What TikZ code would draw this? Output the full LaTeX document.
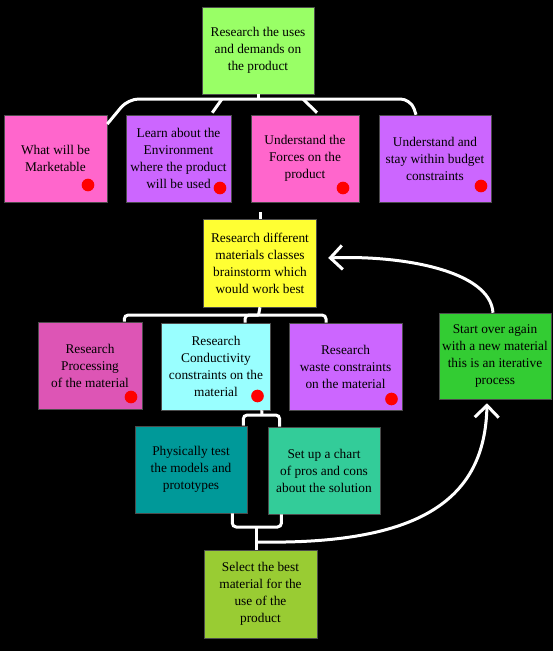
\documentclass[tikz,border=0pt]{standalone}
\usepackage{fontspec}
\setmainfont{Liberation Serif}
\usetikzlibrary{arrows.meta}

\definecolor{lime}{HTML}{99FF66}
\definecolor{rose}{HTML}{FF66CC}
\definecolor{lilac}{HTML}{CC66FF}
\definecolor{lemon}{HTML}{FFFF33}
\definecolor{plum}{HTML}{DD55B5}
\definecolor{ice}{HTML}{99FFFF}
\definecolor{grass}{HTML}{33CC33}
\definecolor{teal}{HTML}{009999}
\definecolor{sea}{HTML}{33CC99}
\definecolor{olive}{HTML}{99CC33}

\begin{document}
\begin{tikzpicture}[
    x=0.75pt, y=-0.75pt,
    every node/.style={draw=black!70, align=center, inner sep=0pt, text=black, font=\fontsize{10}{12.75}\selectfont},
    card/.style={minimum width=84pt, minimum height=65.25pt},
    dot/.style={circle, draw=none, fill=red, minimum size=9.5pt},
    wire/.style={draw=white, line width=2.25pt, rounded corners=3pt},
    back/.style={draw=white, line width=2.25pt, -{Straight Barb[length=9pt, width=18pt, line width=2.25pt]}}
]

\fill[black] (0,0) rectangle (553,651);

% top level
\node[card, fill=lime] (uses) at (258,50.5) {Research the uses\\and demands on\\the product};

\node[card, fill=rose, minimum width=77.25pt] (market) at (55.5,158.5) {What will be\\Marketable};
\node[card, fill=lilac, minimum width=78.75pt] (envir) at (178.5,158.5) {Learn about the\\Environment\\where the product\\will be used};
\node[card, fill=rose, minimum width=81pt] (forces) at (305,158.5) {Understand the\\Forces on the\\product};
\node[card, fill=lilac] (budget) at (435,158.5) {Understand and\\stay within budget\\constraints};

\node[dot] (dotA) at (88,185) {};
\node[dot] (dotB) at (220,188) {};
\node[dot] (dotC) at (343,188) {};
\node[dot] (dotD) at (481,186) {};

% materials
\node[card, fill=lemon, minimum width=84.75pt, minimum height=66pt] (mats) at (260,263) {Research different\\materials classes\\brainstorm which\\would work best};

\node[card, fill=plum, minimum width=78pt] (proc) at (90,365.5) {Research\\Processing\\of the material};
\node[card, fill=ice, minimum width=81.75pt] (cond) at (216,366.5) {Research\\Conductivity\\constraints on the\\material};
\node[card, fill=lilac, minimum width=84.75pt] (waste) at (345.5,366.5) {Research\\waste constraints\\on the material};
\node[card, fill=grass, minimum height=64.5pt] (restart) at (495,356) {Start over again\\with a new material\\this is an iterative\\process};

\node[dot] (dotP) at (131,397) {};
\node[dot] (dotQ) at (257.5,396) {};
\node[dot] (dotR) at (391.5,399) {};

% testing
\node[card, fill=teal] (test) at (191,469.5) {Physically test\\the models and\\prototypes};
\node[card, fill=sea] (chart) at (324,470.5) {Set up a chart\\of pros and cons\\about the solution};

\node[card, fill=olive, minimum width=84.75pt, minimum height=66pt] (best) at (260.5,594) {Select the best\\material for the\\use of the\\product};

% connectors
\coordinate (barM) at (258,99);
\coordinate (barY) at (258.5,315);
\coordinate (barQ) at (261.7,415);
\coordinate (barV) at (256,527);
\coordinate (loopstart) at (256,542);

\draw[wire] (uses.south) -- (barM);
\draw[wire, rounded corners=8pt] ([yshift=-7pt]market.north east) -- (128,99) -- (411,99) -- ([xshift=-14.25pt]budget.north);
\draw[wire] (222,99) -- ([xshift=-14.25pt,yshift=1.5pt]envir.north east);
\draw[wire] (303,99) -- ([xshift=9pt,yshift=1.5pt]forces.north);

\draw[wire] (mats.north) -- ++(0,-7);
\draw[wire] (mats.south) -- (barY);
\draw[wire] ([xshift=-13.5pt]proc.north east) |- (barY) -| ([xshift=-14.6pt]waste.north);
\draw[wire] ([xshift=21.75pt]cond.north) |- (barY);

\draw[wire] ([xshift=-6.6pt]cond.south east) -- (barQ);
\draw[wire] ([xshift=-3pt]test.north east) |- (barQ) -| ([xshift=9pt]chart.north west);

\draw[wire] ([xshift=-11.25pt]test.south east) |- (barV) -| ([xshift=10.3pt]chart.south west);
\draw[wire] (barV) -- (barV |- best.north);

\draw[back] (loopstart) .. controls (420,545) and (485,500) .. ([xshift=-6pt,yshift=-3pt]restart.south);
\draw[back] ([xshift=-1.5pt]restart.north) .. controls (490,270) and (400,255) .. ([xshift=8.6pt,yshift=3.75pt]mats.east);

\end{tikzpicture}
\end{document}
